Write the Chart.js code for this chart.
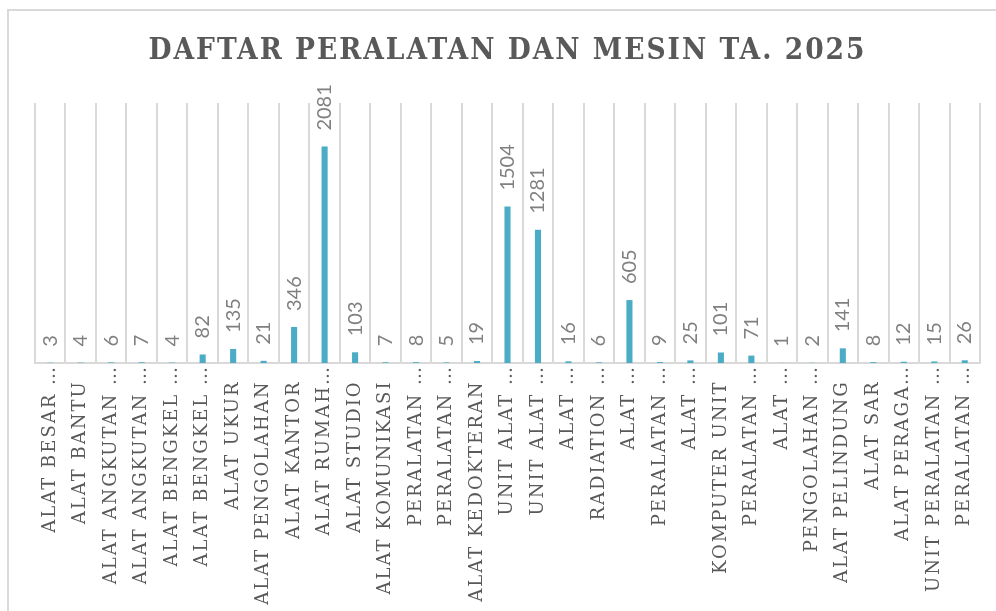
<!DOCTYPE html>
<html>
<head>
<meta charset="utf-8">
<script src="https://cdn.jsdelivr.net/npm/chart.js@4.4.1/dist/chart.umd.min.js"></script>
<style>
  html, body { margin: 0; padding: 0; background: #ffffff; overflow: hidden; }
  #bingkai {
    position: absolute; left: 7px; top: 9px;
    width: 996px; height: 664px;
    border: 2px solid #d9d9d9; box-sizing: border-box;
  }
  canvas { display: block; }
</style>
</head>
<body>
<div id="bingkai"><canvas id="grafik" width="992" height="650"></canvas></div>
<script>
// judul dan data
const judul = "DAFTAR PERALATAN DAN MESIN TA. 2025";

const kategori = [
    "ALAT BESAR …", "ALAT BANTU", "ALAT ANGKUTAN …", "ALAT ANGKUTAN …",
    "ALAT BENGKEL …", "ALAT BENGKEL …", "ALAT UKUR", "ALAT PENGOLAHAN",
    "ALAT KANTOR", "ALAT RUMAH…", "ALAT STUDIO", "ALAT KOMUNIKASI",
    "PERALATAN …", "PERALATAN …", "ALAT KEDOKTERAN", "UNIT ALAT …",
    "UNIT ALAT …", "ALAT …", "RADIATION …", "ALAT …",
    "PERALATAN …", "ALAT …", "KOMPUTER UNIT", "PERALATAN …",
    "ALAT …", "PENGOLAHAN …", "ALAT PELINDUNG", "ALAT SAR",
    "ALAT PERAGA…", "UNIT PERALATAN …", "PERALATAN …"
];

const jumlah = [
    3, 4, 6, 7, 4, 82, 135, 21, 346, 2081, 103, 7, 8, 5, 19, 1504,
    1281, 16, 6, 605, 9, 25, 101, 71, 1, 2, 141, 8, 12, 15, 26
];

const batasY = [0, 2500];

// jarak huruf ala Excel (canvas direset setiap ukuran berubah, jadi diset ulang)
const spasiHuruf = {
    id: 'spasiHuruf',
    beforeLayout(chart) { chart.ctx.letterSpacing = '2px'; },
    beforeDraw(chart) { chart.ctx.letterSpacing = '2px'; }
};

// label angka di atas batang, diputar 90 derajat
const labelAngka = {
    id: 'labelAngka',
    afterDatasetsDraw(chart) {
        const ctx = chart.ctx;
        const meta = chart.getDatasetMeta(0);
        ctx.save();
        ctx.letterSpacing = '0px';
        ctx.font = '20px Lato';
        ctx.fillStyle = '#808080';
        ctx.textAlign = 'left';
        ctx.textBaseline = 'middle';
        meta.data.forEach(function (bar, i) {
            ctx.save();
            ctx.translate(bar.x, bar.y - 16);
            ctx.rotate(-Math.PI / 2);
            ctx.fillText(String(jumlah[i]), 0, 0);
            ctx.restore();
        });
        ctx.restore();
    }
};

const ctx = document.getElementById("grafik").getContext("2d");
const grafik = new Chart(ctx, {
    type: 'bar',
    data: {
        labels: kategori,
        datasets: [{
            label: "Jumlah",
            data: jumlah,
            backgroundColor: "#4bacc6",
            barPercentage: 0.2,
            categoryPercentage: 1.0,
        }],
    },
    options: {
        responsive: false,
        animation: false,
        layout: {
            padding: { left: 26, right: 21, top: 0, bottom: 0 },
        },
        plugins: {
            legend: { display: false },
            tooltip: { enabled: false },
            title: {
                display: true,
                text: judul,
                color: "#595959",
                font: { family: '"DejaVu Serif Condensed", "DejaVu Serif"', size: 29.5, weight: 'bold', lineHeight: 1.2 },
                padding: { top: 23, bottom: 33.6 },
            },
        },
        scales: {
            x: {
                grid: {
                    display: true,
                    offset: true,
                    color: "#d9d9d9",
                    lineWidth: 2,
                    drawTicks: false,
                },
                border: { display: true, color: "#d9d9d9", width: 2 },
                ticks: {
                    autoSkip: false,
                    minRotation: 90,
                    maxRotation: 90,
                    padding: 2,
                    color: "#595959",
                    font: { family: '"DejaVu Serif"', size: 18 },
                    callback: function (value) {
                        const teks = this.getLabelForValue(value);
                        // label tanpa elipsis diberi jarak agar sejajar dengan Excel
                        return teks.endsWith('…') ? teks : teks + '\u00a0\u00a0';
                    },
                },
                afterFit: function (scale) { scale.height = 298; },
            },
            y: {
                display: false,
                min: batasY[0],
                max: batasY[1],
            },
        },
    },
    plugins: [spasiHuruf, labelAngka],
});
</script>
</body>
</html>
